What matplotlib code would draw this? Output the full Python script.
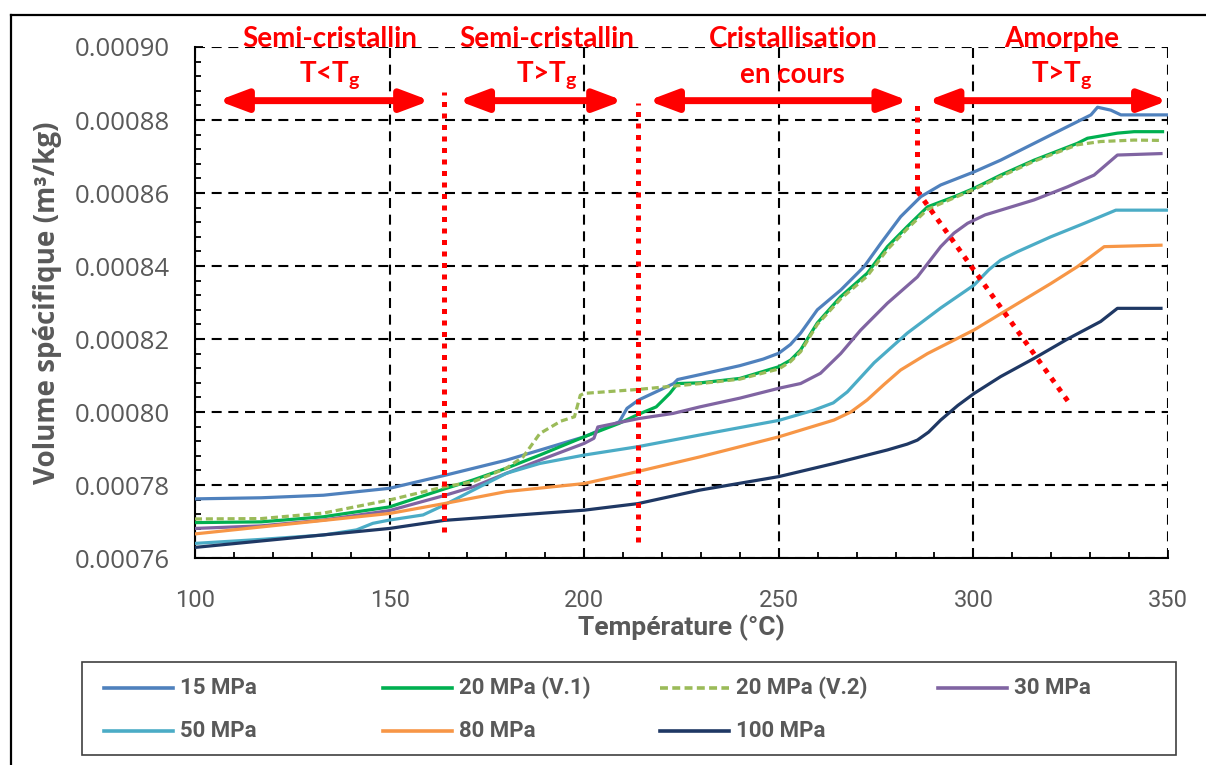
import matplotlib
matplotlib.use("Agg")
import matplotlib.pyplot as plt
from matplotlib import font_manager
from matplotlib.lines import Line2D
from matplotlib.patches import Rectangle

# ---------------- data ----------------
T_15 = [100, 117, 133, 150, 164, 180, 200, 209, 211, 214, 223, 224, 230, 240, 246, 250, 253, 255.6, 259.9,
        265.9, 271.9, 276.2, 281.3, 286.5, 291.6, 300.2, 307, 315.6, 324.2, 330.2, 331.9, 335.3, 337.9, 350]
V_15 = [0.0007762, 0.0007765, 0.0007772, 0.0007791, 0.0007826, 0.0007868, 0.0007932, 0.0007973, 0.0008010,
        0.0008033, 0.0008078, 0.0008089, 0.0008103, 0.0008127, 0.0008145, 0.0008161, 0.0008185, 0.0008216,
        0.0008280, 0.0008334, 0.0008398, 0.0008462, 0.0008535, 0.0008590, 0.0008622, 0.0008658, 0.0008690,
        0.0008736, 0.0008782, 0.0008814, 0.0008835, 0.0008827, 0.0008814, 0.0008814]

T_20a = [100, 117, 133, 150, 164, 171.5, 180, 188.6, 200, 209, 214, 218.5, 222, 224, 230, 240, 250, 253,
         255.6, 259.9, 265.9, 272.7, 277.9, 283, 288.2, 295.1, 300.2, 307, 315.6, 326.7, 329.3, 337, 341.3, 348.6]
V_20a = [0.0007697, 0.0007699, 0.0007713, 0.0007740, 0.0007789, 0.0007814, 0.0007846, 0.0007882, 0.0007932,
         0.0007969, 0.0007994, 0.0008014, 0.0008051, 0.0008078, 0.0008080, 0.0008092, 0.0008124, 0.0008142,
         0.0008170, 0.0008244, 0.0008316, 0.0008380, 0.0008453, 0.0008508, 0.0008562, 0.0008590, 0.0008613,
         0.0008649, 0.0008690, 0.0008736, 0.0008750, 0.0008764, 0.0008768, 0.0008768]

T_20b = [100, 117, 133, 150, 164, 171.5, 180, 184.3, 188.6, 194, 197.5, 199, 200, 214, 230, 240, 250, 253,
         255.6, 259.9, 265.9, 272.7, 277.9, 283, 288.2, 295.1, 300.2, 307, 315.6, 326.7, 332.7, 341.3, 348.6]
V_20b = [0.0007707, 0.0007708, 0.0007723, 0.0007759, 0.0007795, 0.0007809, 0.0007846, 0.0007877, 0.0007941,
         0.0007975, 0.0007987, 0.0008046, 0.0008051, 0.0008062, 0.0008078, 0.0008090, 0.0008118, 0.0008138,
         0.0008165, 0.0008240, 0.0008310, 0.0008372, 0.0008445, 0.0008502, 0.0008555, 0.0008587, 0.0008610,
         0.0008645, 0.0008687, 0.0008732, 0.0008741, 0.0008745, 0.0008744]

T_30 = [100, 117, 133, 150, 164, 171.5, 180, 188.6, 200, 202.5, 203.5, 214, 222.8, 229.7, 240, 250, 255.6,
        260.7, 265.9, 271, 277.9, 285.6, 291.6, 295, 298.5, 303, 307, 315.6, 324.2, 331, 337, 348.2]
V_30 = [0.0007681, 0.0007688, 0.0007704, 0.0007730, 0.0007771, 0.0007795, 0.0007832, 0.0007868, 0.0007914,
        0.0007928, 0.0007959, 0.0007982, 0.0007996, 0.0008014, 0.0008038, 0.0008065, 0.0008078, 0.0008106,
        0.0008160, 0.0008224, 0.0008298, 0.0008370, 0.0008453, 0.0008490, 0.0008517, 0.0008540, 0.0008553,
        0.0008581, 0.0008617, 0.0008649, 0.0008704, 0.0008708]

T_50 = [100, 117, 133, 141.5, 145.7, 150, 158.6, 164, 171.5, 180, 188.6, 200, 213.8, 229.7, 250, 259,
        264, 267.6, 274.5, 283, 291.6, 300.2, 304, 307, 311.3, 319.9, 328.5, 336.6, 350]
V_50 = [0.0007640, 0.0007651, 0.0007663, 0.0007677, 0.0007695, 0.0007704, 0.0007718, 0.0007745, 0.0007786,
        0.0007832, 0.0007859, 0.0007882, 0.0007905, 0.0007937, 0.0007977, 0.0008005, 0.0008025, 0.0008055,
        0.0008135, 0.0008216, 0.0008285, 0.0008348, 0.0008390, 0.0008416, 0.0008439, 0.0008480, 0.0008517,
        0.0008553, 0.0008553]

T_80 = [100, 150, 164, 180, 200, 213.8, 229.7, 250, 264.2, 268.5, 272.7, 277, 281.3, 288.2, 300.2, 308.7,
        319.9, 326.7, 333.6, 348.2]
V_80 = [0.0007666, 0.0007722, 0.0007749, 0.0007782, 0.0007804, 0.0007837, 0.0007877, 0.0007932, 0.0007978,
        0.0008000, 0.0008033, 0.0008075, 0.0008115, 0.0008160, 0.0008225, 0.0008280, 0.0008352, 0.0008398,
        0.0008453, 0.0008457]

T_100 = [100, 150, 164, 200, 213.8, 229.7, 250, 264.2, 277.9, 283, 285.6, 288.5, 291.6, 296, 300.2, 307,
         315.6, 324.2, 332.7, 337, 348.2]
V_100 = [0.0007629, 0.0007681, 0.0007703, 0.0007731, 0.0007749, 0.0007786, 0.0007823, 0.0007859, 0.0007896,
         0.0007912, 0.0007923, 0.0007945, 0.0007978, 0.0008018, 0.0008051, 0.0008097, 0.0008147, 0.0008200,
         0.0008248, 0.0008284, 0.0008284]

labels = ["15 MPa", "20 MPa (V.1)", "20 MPa (V.2)", "30 MPa", "50 MPa", "80 MPa", "100 MPa"]
colors = ["#4F81BD", "#00B050", "#9BBB59", "#8064A2", "#4BACC6", "#F79646", "#1F3864"]
styles = ["-", "-", "--", "-", "-", "-", "-"]
series_T = [T_15, T_20a, T_20b, T_30, T_50, T_80, T_100]
series_V = [V_15, V_20a, V_20b, V_30, V_50, V_80, V_100]

# phase boundaries (°C) and annotation regions
boundary_T = [164.0, 213.9, 285.6]
boundary_top = [0.0008878, 0.0008847, 0.0008847]
boundary_bot = [0.0007672, 0.0007645, 0.0008605]
diag_T = [285.6, 324.4]
diag_V = [0.0008605, 0.0008028]
arrow_T = [(105.9, 160.4), (167.6, 210.0), (216.4, 283.3), (288.2, 350.0)]
arrow_V = 0.0008853
region_line1 = ["Semi-cristallin", "Semi-cristallin", "Cristallisation", "Amorphe"]
region_line2 = [r"T<$\mathrm{T_g}$", r"T>$\mathrm{T_g}$", "en cours", r"T>$\mathrm{T_g}$"]
region_x = [134.7, 190.5, 253.6, 322.6]

# ---------------- fonts ----------------
avail = {f.name for f in font_manager.fontManager.ttflist}
narrow = "Liberation Sans Narrow" if "Liberation Sans Narrow" in avail else "Roboto"
plt.rcParams["mathtext.fontset"] = "custom"
plt.rcParams["mathtext.rm"] = "Lato:bold"
plt.rcParams["mathtext.it"] = "Lato:bold"
plt.rcParams["mathtext.bf"] = "Lato:bold"
GRAY = "#595959"

fig = plt.figure(figsize=(12.06, 7.65), dpi=100)
ax = fig.add_axes([195 / 1206, 1 - 558 / 765, (1168 - 195) / 1206, (558 - 47) / 765])

for T, V, c, s, lab in zip(series_T, series_V, colors, styles, labels):
    ax.plot(T, V, color=c, ls=s, lw=2.3, label=lab, zorder=5, solid_joinstyle="round",
            dashes=(2.2, 1.2) if s == "--" else (None, None))

ax.set_xlim(100, 350)
ax.set_ylim(0.00076, 0.00090)
ax.set_xticks([100, 150, 200, 250, 300, 350])
ax.set_xticks(range(100, 351, 10), minor=True)
yt = [0.00076, 0.00078, 0.00080, 0.00082, 0.00084, 0.00086, 0.00088, 0.00090]
ax.set_yticks(yt)
ax.set_yticklabels([f"{v:.5f}" for v in yt])
ax.set_yticks([0.00076 + 0.000004 * i for i in range(36)], minor=True)

ax.grid(True, which="major", color="black", lw=1.5, ls=(0, (4.8, 3.2)))
ax.spines["top"].set_visible(False)
ax.spines["right"].set_visible(False)
ax.spines["left"].set_linewidth(1.5)
ax.spines["bottom"].set_linewidth(1.5)
ax.tick_params(which="both", direction="in", width=1.3, colors="black")
ax.tick_params(which="major", length=6)
ax.tick_params(which="minor", length=4)
ax.tick_params(axis="x", which="major", pad=22, labelsize=17, labelcolor=GRAY)
ax.tick_params(axis="y", which="major", pad=18, labelsize=18.5, labelcolor=GRAY)
for t in ax.get_xticklabels():
    t.set_fontfamily(narrow)
for t in ax.get_yticklabels():
    t.set_fontfamily("Open Sans")

ax.set_xlabel("Température (°C)", fontsize=19, color=GRAY, fontweight="bold",
              family=narrow, labelpad=2)
ax.set_ylabel("Volume spécifique (m³/kg)", fontsize=20, color=GRAY, fontweight="bold",
              family="Open Sans", labelpad=9)

# ---------------- red annotations ----------------
red = "#FF0000"
for bx, top, bot in zip(boundary_T, boundary_top, boundary_bot):
    ax.plot([bx, bx], [bot, top], color=red, lw=3.6, ls=(0, (1, 1.3)),
            dash_capstyle="butt", zorder=6, clip_on=False)
ax.plot(diag_T, diag_V, color=red, lw=3.6, ls=(0, (1, 1.3)), dash_capstyle="butt", zorder=6)

for (a0, a1) in arrow_T:
    ax.annotate("", xy=(a1, arrow_V), xytext=(a0, arrow_V), annotation_clip=False,
                arrowprops=dict(arrowstyle="<|-|>,head_length=0.85,head_width=0.32",
                                lw=5, color=red, shrinkA=0, shrinkB=0, mutation_scale=20),
                zorder=7)

for x, l1, l2 in zip(region_x, region_line1, region_line2):
    ax.text(x, 0.0009022, l1, ha="center", va="center", color=red, fontsize=20,
            fontweight="bold", family="Lato", clip_on=False, zorder=8)
    ax.text(x, 0.0008922, l2, ha="center", va="center", color=red, fontsize=20,
            fontweight="bold", family="Lato", clip_on=False, zorder=8)

# ---------------- outer frame ----------------
fig.add_artist(Line2D([11 / 1206, 1.0], [1 - 15 / 765, 1 - 15 / 765], color="black", lw=1.6,
                      transform=fig.transFigure))
fig.add_artist(Line2D([11 / 1206, 11 / 1206], [0.0, 1 - 15 / 765], color="black", lw=1.6,
                      transform=fig.transFigure))

# ---------------- legend ----------------
fig.add_artist(Rectangle((82 / 1206, 1 - 755 / 765), (1176 - 82) / 1206, 93 / 765,
                         transform=fig.transFigure, fill=False, edgecolor="#404040", lw=1.2))
col_x = [104, 383, 660, 938]
row_y = [688, 731]
for i, (lab, c, s) in enumerate(zip(labels, colors, styles)):
    r, cidx = divmod(i, 4)
    x0 = col_x[cidx]
    yy = 1 - row_y[r] / 765
    ln = Line2D([x0 / 1206, (x0 + 69) / 1206], [yy, yy], color=c, lw=2.6,
                transform=fig.transFigure)
    if s == "--":
        ln.set_dashes((2.2, 1.2))
    fig.add_artist(ln)
    fig.text((x0 + 76) / 1206, yy, lab, ha="left", va="center", fontsize=16,
             color=GRAY, fontweight="bold", family=narrow)

fig.savefig("out.png", dpi=100)
